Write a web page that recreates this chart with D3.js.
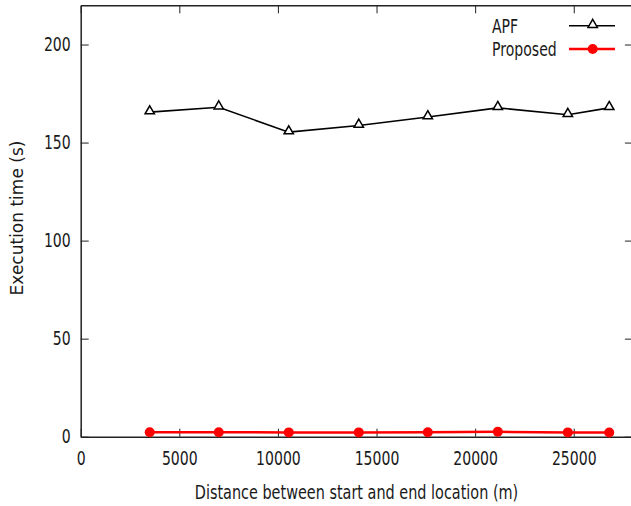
<!DOCTYPE html>
<html>
<head>
<meta charset="utf-8">
<script src="https://cdn.jsdelivr.net/npm/d3@7"></script>
<style>
  body { margin: 0; background: #fff; overflow: hidden; }
  svg { display: block; }
  text { font-family: "DejaVu Sans", sans-serif; fill: #1a1a1a; }
</style>
</head>
<body>
<div id="chart"></div>
<script>
// values
var distances = [3500, 7000, 10550, 14100, 17600, 21150, 24700, 26800]
var apfTimes = [165.5, 168, 155.3, 158.7, 163, 167.7, 164.2, 167.7]
var proposedTimes = [2.3, 2.3, 2.2, 2.2, 2.3, 2.5, 2.2, 2.1]
var xTicks = [0, 5000, 10000, 15000, 20000, 25000]
var yTicks = [0, 50, 100, 150, 200]
var seriesNames = ["APF", "Proposed"]

var svgWidth = 631
var svgHeight = 506
var margin = { top: 5.3, left: 80.7 }
var width = 552.2
var height = 431.4
var squash = 0.74   // narrow look of the horizontal text
var frameColor = "#222"

var svg = d3.select("#chart").append("svg")
    .attr("width", svgWidth)
    .attr("height", svgHeight)

var chart = svg.append("g")
    .attr("transform", "translate(" + margin.left + "," + margin.top + ")")

var x = d3.scaleLinear().domain([0, 28000]).range([0, width])
var y = d3.scaleLinear().domain([0, 220]).range([height, 0])

function styleAxis(g) {
    g.select(".domain").attr("stroke", frameColor).attr("stroke-width", 1.5)
    g.selectAll(".tick line").attr("stroke", frameColor).attr("stroke-width", 1)
    g.selectAll("text").style("font-size", "19px").attr("fill", "#1a1a1a")
}

// bottom axis
chart.append("g")
    .attr("transform", "translate(0," + height + ")")
    .call(d3.axisBottom(x).tickValues(xTicks).tickFormat(d3.format("d"))
        .tickSizeInner(-8).tickSizeOuter(0).tickPadding(15))
    .call(styleAxis)
    .selectAll("text").attr("transform", "scale(" + squash + ",1)")

// left axis
chart.append("g")
    .call(d3.axisLeft(y).tickValues(yTicks).tickFormat(d3.format("d"))
        .tickSizeInner(-8).tickSizeOuter(0).tickPadding(10))
    .call(styleAxis)
    .selectAll("text")
    .attr("x", -10 / squash)
    .attr("transform", "scale(" + squash + ",1)")

// mirrored top and right ticks
chart.append("g")
    .call(d3.axisTop(x).tickValues(xTicks).tickSizeInner(-8).tickSizeOuter(0).tickFormat(""))
    .call(styleAxis)

chart.append("g")
    .attr("transform", "translate(" + width + ",0)")
    .call(d3.axisRight(y).tickValues(yTicks).tickSizeInner(-8).tickSizeOuter(0).tickFormat(""))
    .call(styleAxis)

// axis titles
svg.append("text")
    .attr("transform", "translate(356.5,499) scale(0.76,1)")
    .attr("text-anchor", "middle")
    .style("font-size", "19px")
    .text("Distance between start and end location (m)")

svg.append("text")
    .attr("transform", "translate(22.7,218) rotate(-90)")
    .attr("text-anchor", "middle")
    .style("font-size", "17px")
    .text("Execution time (s)")

// series
var apfData = distances.map(function(d, i) { return { x: d, y: apfTimes[i] } })
var propData = distances.map(function(d, i) { return { x: d, y: proposedTimes[i] } })

var line = d3.line()
    .x(function(d) { return x(d.x) })
    .y(function(d) { return y(d.y) })

var tri = d3.symbol().type(d3.symbolTriangle).size(38)

chart.append("path")
    .datum(propData)
    .attr("d", line)
    .attr("fill", "none")
    .attr("stroke", "#ff0000")
    .attr("stroke-width", 2.5)

chart.selectAll(".prop-pt").data(propData)
    .enter().append("circle").attr("class", "prop-pt")
    .attr("cx", function(d) { return x(d.x) })
    .attr("cy", function(d) { return y(d.y) })
    .attr("r", 5)
    .attr("fill", "#ff0000")

chart.append("path")
    .datum(apfData)
    .attr("d", line)
    .attr("fill", "none")
    .attr("stroke", "#000")
    .attr("stroke-width", 1.6)

chart.selectAll(".apf-pt").data(apfData)
    .enter().append("path").attr("class", "apf-pt")
    .attr("transform", function(d) { return "translate(" + x(d.x) + "," + (y(d.y) - 1) + ")" })
    .attr("d", tri)
    .attr("fill", "#fff")
    .attr("stroke", "#000")
    .attr("stroke-width", 1.5)

// legend
var legend = svg.append("g")
var rows = [
    { name: seriesNames[0], color: "#000", ly: 25.7, ty: 33 },
    { name: seriesNames[1], color: "#ff0000", ly: 49, ty: 55.5 }
]
rows.forEach(function(r, i) {
    legend.append("text")
        .attr("transform", "translate(492," + r.ty + ") scale(" + squash + ",1)")
        .style("font-size", "19px")
        .text(r.name)
    legend.append("line")
        .attr("x1", 569).attr("x2", 615)
        .attr("y1", r.ly).attr("y2", r.ly)
        .attr("stroke", r.color)
        .attr("stroke-width", i == 0 ? 1.6 : 2.5)
    if (i == 0) {
        legend.append("path")
            .attr("transform", "translate(592.7," + (r.ly - 1) + ")")
            .attr("d", tri)
            .attr("fill", "#fff")
            .attr("stroke", "#000")
            .attr("stroke-width", 1.5)
    } else {
        legend.append("circle")
            .attr("cx", 592.7).attr("cy", r.ly).attr("r", 5)
            .attr("fill", "#ff0000")
    }
})
</script>
</body>
</html>
